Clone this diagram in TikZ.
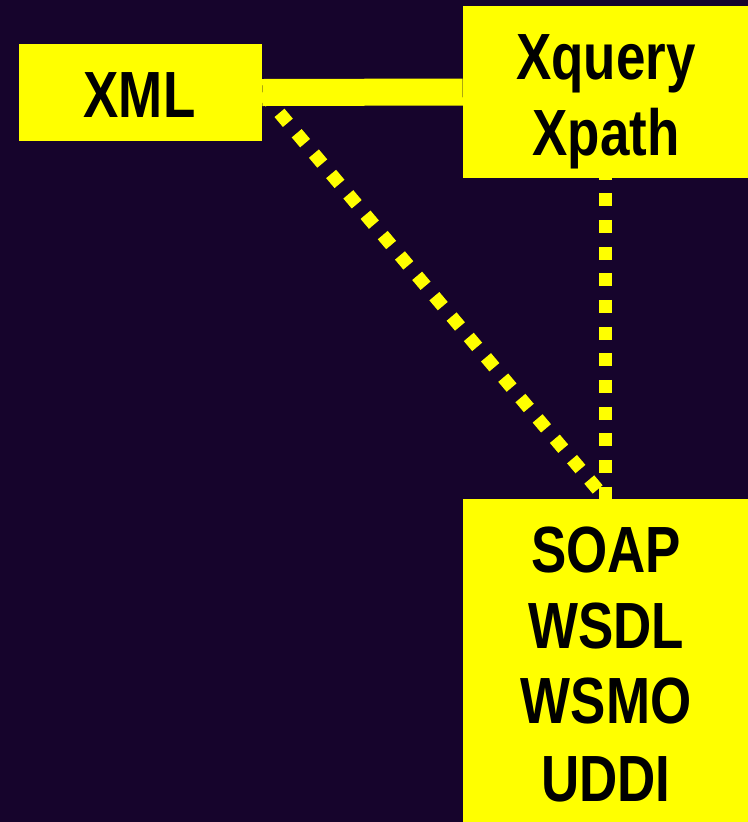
\documentclass[tikz,border=0pt]{standalone}
\usepackage{fontspec}
\setmainfont{Liberation Sans}[FakeStretch=0.81]
\definecolor{bgpurple}{RGB}{22,4,44}
\definecolor{boxyellow}{RGB}{255,255,0}
\tikzset{
  box/.style={fill=boxyellow, draw=none, inner sep=0pt, outer sep=0pt},
  label text/.style={inner sep=0pt, anchor=base, text=black,
    font=\fontsize{49pt}{57pt}\selectfont\bfseries},
  solid link/.style={draw=boxyellow, line width=20.25pt},
  dotted link/.style={draw=boxyellow, line width=9.75pt,
    dash pattern=on 9.75pt off 10.25pt},
}
\begin{document}
\begin{tikzpicture}[x=0.75pt, y=-0.75pt]
  % page and background
  \fill[bgpurple] (0,0) rectangle (748,822);
  \useasboundingbox (0,0) rectangle (748,822);

  % boxes (drawn empty first so links can sit beneath them)
  \path (140.5,92.5) node[minimum width=182.25pt, minimum height=72pt] (xml) {};
  \path (605.5,92) node[minimum width=213.75pt, minimum height=129pt] (xq) {};
  \path (605.5,660.5) node[minimum width=213.75pt, minimum height=242.25pt] (soap) {};

  % links
  \draw[dotted link] (xml.east) -- (soap.north);
  \draw[dotted link, dash phase=8.8pt] (xq.south) -- (soap.north);
  \draw[solid link] (xml.east) -- (xq.west);

  % filled boxes on top
  \fill[boxyellow] (xml.south west) rectangle (xml.north east);
  \fill[boxyellow] (xq.south west) rectangle (xq.north east);
  \fill[boxyellow] (soap.south west) rectangle (soap.north east);

  % texts
  \node[label text] (txml) at (139.5,117) {XML};
  \node[label text] (txq1) at (606,79) {Xquery};
  \node[label text] (txq2) at (606,155) {Xpath};
  \node[label text] (ts1) at (606,572) {SOAP};
  \node[label text] (ts2) at (606,648) {WSDL};
  \node[label text] (ts3) at (606,723) {WSMO};
  \node[label text] (ts4) at (606,801) {UDDI};
\end{tikzpicture}
\end{document}
